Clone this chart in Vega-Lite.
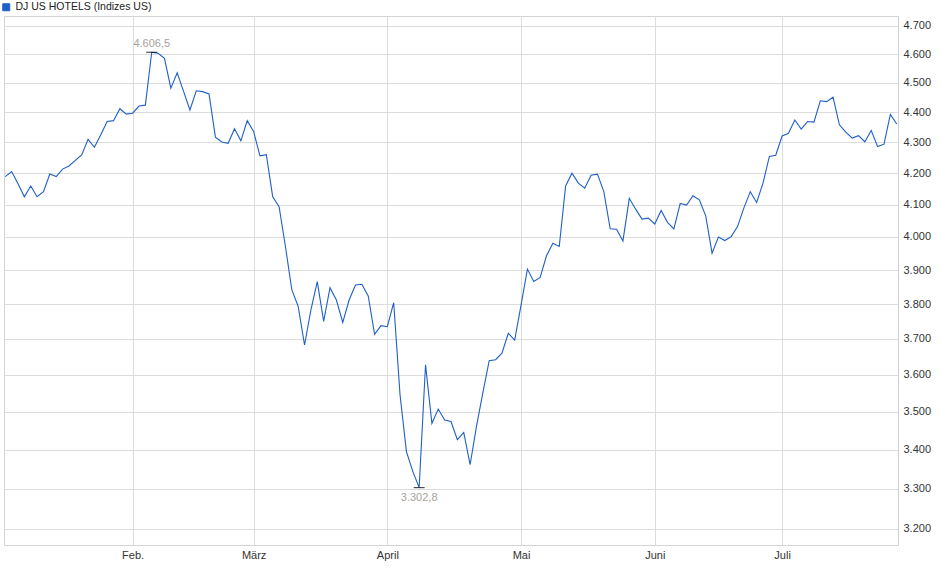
{
  "$schema": "https://vega.github.io/schema/vega-lite/v6.json",
  "width": 894,
  "height": 529,
  "autosize": "none",
  "padding": {"left": 4, "top": 16, "right": 42, "bottom": 34},
  "background": "white",
  "data": {
    "values": [
      {"date": "2025-01-02", "close": 4189}, {"date": "2025-01-03", "close": 4205},
      {"date": "2025-01-06", "close": 4166}, {"date": "2025-01-07", "close": 4125},
      {"date": "2025-01-08", "close": 4159}, {"date": "2025-01-10", "close": 4125},
      {"date": "2025-01-13", "close": 4141}, {"date": "2025-01-14", "close": 4197},
      {"date": "2025-01-15", "close": 4189}, {"date": "2025-01-16", "close": 4213},
      {"date": "2025-01-17", "close": 4223}, {"date": "2025-01-21", "close": 4241},
      {"date": "2025-01-22", "close": 4259}, {"date": "2025-01-23", "close": 4310},
      {"date": "2025-01-24", "close": 4284}, {"date": "2025-01-27", "close": 4325},
      {"date": "2025-01-28", "close": 4369}, {"date": "2025-01-29", "close": 4372},
      {"date": "2025-01-30", "close": 4412}, {"date": "2025-01-31", "close": 4394},
      {"date": "2025-02-03", "close": 4397}, {"date": "2025-02-04", "close": 4421},
      {"date": "2025-02-05", "close": 4424}, {"date": "2025-02-06", "close": 4606.5},
      {"date": "2025-02-07", "close": 4603}, {"date": "2025-02-10", "close": 4585},
      {"date": "2025-02-11", "close": 4482}, {"date": "2025-02-12", "close": 4535},
      {"date": "2025-02-13", "close": 4471}, {"date": "2025-02-14", "close": 4408},
      {"date": "2025-02-18", "close": 4473}, {"date": "2025-02-19", "close": 4470},
      {"date": "2025-02-20", "close": 4462}, {"date": "2025-02-21", "close": 4317},
      {"date": "2025-02-24", "close": 4301}, {"date": "2025-02-25", "close": 4297},
      {"date": "2025-02-26", "close": 4345}, {"date": "2025-02-27", "close": 4305},
      {"date": "2025-02-28", "close": 4372},
      {"date": "2025-03-03", "close": 4336}, {"date": "2025-03-04", "close": 4256},
      {"date": "2025-03-05", "close": 4260}, {"date": "2025-03-06", "close": 4125},
      {"date": "2025-03-07", "close": 4094}, {"date": "2025-03-10", "close": 3971},
      {"date": "2025-03-11", "close": 3842}, {"date": "2025-03-12", "close": 3793},
      {"date": "2025-03-13", "close": 3683}, {"date": "2025-03-14", "close": 3783},
      {"date": "2025-03-17", "close": 3866}, {"date": "2025-03-18", "close": 3750},
      {"date": "2025-03-19", "close": 3848}, {"date": "2025-03-20", "close": 3812},
      {"date": "2025-03-21", "close": 3747}, {"date": "2025-03-24", "close": 3812},
      {"date": "2025-03-25", "close": 3856}, {"date": "2025-03-26", "close": 3858},
      {"date": "2025-03-27", "close": 3824}, {"date": "2025-03-28", "close": 3713},
      {"date": "2025-03-31", "close": 3738},
      {"date": "2025-04-01", "close": 3735}, {"date": "2025-04-02", "close": 3804},
      {"date": "2025-04-03", "close": 3545}, {"date": "2025-04-04", "close": 3395},
      {"date": "2025-04-07", "close": 3344}, {"date": "2025-04-08", "close": 3302.8},
      {"date": "2025-04-09", "close": 3628}, {"date": "2025-04-10", "close": 3469},
      {"date": "2025-04-11", "close": 3507}, {"date": "2025-04-14", "close": 3478},
      {"date": "2025-04-15", "close": 3474}, {"date": "2025-04-16", "close": 3426},
      {"date": "2025-04-17", "close": 3445}, {"date": "2025-04-21", "close": 3361},
      {"date": "2025-04-22", "close": 3461}, {"date": "2025-04-23", "close": 3551},
      {"date": "2025-04-24", "close": 3639}, {"date": "2025-04-25", "close": 3642},
      {"date": "2025-04-28", "close": 3660}, {"date": "2025-04-29", "close": 3716},
      {"date": "2025-04-30", "close": 3697},
      {"date": "2025-05-01", "close": 3797}, {"date": "2025-05-02", "close": 3903},
      {"date": "2025-05-05", "close": 3866}, {"date": "2025-05-06", "close": 3878},
      {"date": "2025-05-07", "close": 3943}, {"date": "2025-05-08", "close": 3981},
      {"date": "2025-05-09", "close": 3971}, {"date": "2025-05-12", "close": 4159},
      {"date": "2025-05-13", "close": 4200}, {"date": "2025-05-14", "close": 4168},
      {"date": "2025-05-15", "close": 4152}, {"date": "2025-05-16", "close": 4193},
      {"date": "2025-05-19", "close": 4197}, {"date": "2025-05-20", "close": 4141},
      {"date": "2025-05-21", "close": 4025}, {"date": "2025-05-22", "close": 4024},
      {"date": "2025-05-23", "close": 3988}, {"date": "2025-05-27", "close": 4120},
      {"date": "2025-05-28", "close": 4086}, {"date": "2025-05-29", "close": 4055},
      {"date": "2025-05-30", "close": 4058},
      {"date": "2025-06-02", "close": 4040}, {"date": "2025-06-03", "close": 4082},
      {"date": "2025-06-04", "close": 4045}, {"date": "2025-06-05", "close": 4025},
      {"date": "2025-06-06", "close": 4104}, {"date": "2025-06-09", "close": 4099},
      {"date": "2025-06-10", "close": 4128}, {"date": "2025-06-11", "close": 4115},
      {"date": "2025-06-12", "close": 4065}, {"date": "2025-06-13", "close": 3951},
      {"date": "2025-06-16", "close": 4000}, {"date": "2025-06-17", "close": 3989},
      {"date": "2025-06-18", "close": 4001}, {"date": "2025-06-20", "close": 4032},
      {"date": "2025-06-23", "close": 4090}, {"date": "2025-06-24", "close": 4141},
      {"date": "2025-06-25", "close": 4107}, {"date": "2025-06-26", "close": 4168},
      {"date": "2025-06-27", "close": 4254}, {"date": "2025-06-30", "close": 4258},
      {"date": "2025-07-01", "close": 4321}, {"date": "2025-07-02", "close": 4330},
      {"date": "2025-07-03", "close": 4374}, {"date": "2025-07-07", "close": 4344},
      {"date": "2025-07-08", "close": 4369}, {"date": "2025-07-09", "close": 4367},
      {"date": "2025-07-10", "close": 4439}, {"date": "2025-07-11", "close": 4436},
      {"date": "2025-07-14", "close": 4451}, {"date": "2025-07-15", "close": 4358},
      {"date": "2025-07-16", "close": 4334}, {"date": "2025-07-17", "close": 4314},
      {"date": "2025-07-18", "close": 4322}, {"date": "2025-07-21", "close": 4302},
      {"date": "2025-07-22", "close": 4339}, {"date": "2025-07-23", "close": 4286},
      {"date": "2025-07-24", "close": 4294}, {"date": "2025-07-25", "close": 4393},
      {"date": "2025-07-28", "close": 4361}
    ]
  },
  "transform": [
    {"joinaggregate": [
      {"op": "max", "field": "close", "as": "hi"},
      {"op": "min", "field": "close", "as": "lo"}
    ]},
    {"calculate": "replace(replace(replace(format(datum.close, ',.1f'), ',', '#'), '.', ','), '#', '.')", "as": "label"}
  ],
  "encoding": {
    "x": {
      "field": "date",
      "type": "ordinal",
      "scale": {"type": "point", "padding": 0.2},
      "axis": {
        "title": null,
        "values": ["2025-02-03", "2025-03-03", "2025-04-01", "2025-05-01", "2025-06-02", "2025-07-01"],
        "labelExpr": "slice(datum.value, 5, 7) == '02' ? 'Feb.' : slice(datum.value, 5, 7) == '03' ? 'März' : slice(datum.value, 5, 7) == '04' ? 'April' : slice(datum.value, 5, 7) == '05' ? 'Mai' : slice(datum.value, 5, 7) == '06' ? 'Juni' : 'Juli'",
        "labelAngle": 0,
        "grid": true,
        "gridColor": "#dcdcdc",
        "ticks": false,
        "domain": false,
        "labelPadding": 4,
        "labelFontSize": 11,
        "labelColor": "#333333"
      }
    },
    "y": {
      "field": "close",
      "type": "quantitative",
      "scale": {"type": "log", "domain": [3161, 4736], "nice": false, "zero": false},
      "axis": {
        "title": null,
        "orient": "right",
        "values": [3200, 3300, 3400, 3500, 3600, 3700, 3800, 3900, 4000, 4100, 4200, 4300, 4400, 4500, 4600, 4700],
        "labelExpr": "replace(format(datum.value, ',d'), ',', '.')",
        "grid": true,
        "gridColor": "#dcdcdc",
        "ticks": false,
        "domain": true,
        "domainColor": "#d0d0d0",
        "labelPadding": 5,
        "labelFontSize": 11,
        "labelColor": "#333333"
      }
    }
  },
  "layer": [
    {
      "mark": {"type": "line", "strokeWidth": 1.1, "interpolate": "linear"},
      "encoding": {
        "color": {
          "datum": "DJ US HOTELS (Indizes US)",
          "type": "nominal",
          "scale": {"range": ["#1f5fc9"]},
          "legend": {
            "title": null,
            "orient": "none",
            "legendX": -3,
            "legendY": -14,
            "symbolType": "square",
            "symbolSize": 49,
            "labelFontSize": 10.5,
            "labelOffset": 4,
            "labelColor": "#222222",
            "encode": {"symbols": {"update": {"fill": {"value": "#1f5fc9"}, "stroke": {"value": "#0d2b6b"}, "strokeWidth": {"value": 1}}}}
          }
        }
      }
    },
    {
      "transform": [{"filter": "datum.close == datum.hi || datum.close == datum.lo"}],
      "mark": {"type": "tick", "orient": "horizontal", "size": 11, "thickness": 1.2, "color": "#000000"}
    },
    {
      "transform": [{"filter": "datum.close == datum.hi"}],
      "mark": {"type": "text", "baseline": "bottom", "dy": -3, "fontSize": 11, "color": "#a8a29a"},
      "encoding": {"text": {"field": "label"}}
    },
    {
      "transform": [{"filter": "datum.close == datum.lo"}],
      "mark": {"type": "text", "baseline": "top", "dy": 4, "fontSize": 11, "color": "#a8a29a"},
      "encoding": {"text": {"field": "label"}}
    }
  ],
  "config": {
    "font": "Liberation Sans",
    "view": {"stroke": "#d4d4d4"}
  }
}
